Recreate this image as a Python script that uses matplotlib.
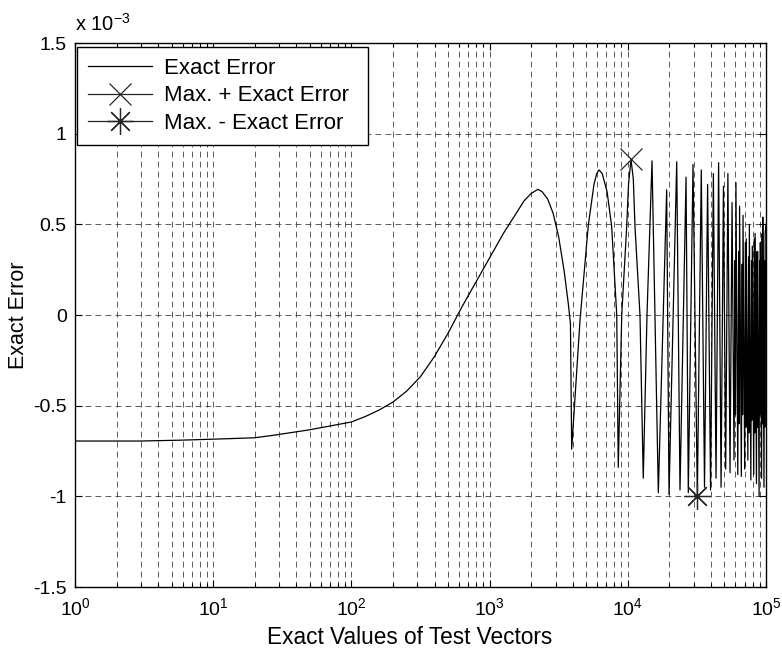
import matplotlib
matplotlib.use("Agg")
import matplotlib.pyplot as plt
from matplotlib.ticker import LogLocator, FixedLocator, FuncFormatter, NullFormatter

plt.rcParams['font.family'] = ['Liberation Sans', 'DejaVu Sans']
plt.rcParams['mathtext.fontset'] = 'custom'
plt.rcParams['mathtext.rm'] = 'Liberation Sans'
plt.rcParams['mathtext.it'] = 'Liberation Sans:italic'
plt.rcParams['mathtext.bf'] = 'Liberation Sans:bold'
plt.rcParams['axes.unicode_minus'] = False

# ---- data (error in units of 1e-3) ----
# smooth part of the exact-error curve
rise_x = [1, 3, 6, 13, 20, 28, 49, 100, 126, 158, 200, 251, 316, 398, 501,
          631, 794, 1000, 1259, 1585, 1778, 1995, 2239, 2399, 2630, 2884, 3162,
          3467, 3715, 3846]
rise_v = [-0.695, -0.695, -0.69, -0.682, -0.677, -0.662, -0.634, -0.59, -0.56,
          -0.525, -0.48, -0.42, -0.34, -0.23, -0.10, 0.045, 0.18, 0.315, 0.45,
          0.57, 0.63, 0.67, 0.693, 0.68, 0.64, 0.56, 0.43, 0.24, 0.06, -0.05]
# oscillating part: peaks, troughs and shoulder points
osc_x = [3926, 4510, 5170, 5690, 5960, 6190, 6530, 7080, 7640, 8318, 8530, 9040,
         9820, 10120, 10550, 10960, 11270, 12250, 12940, 13770, 14970, 16630,
         19110, 19870, 22590, 23860, 26390, 27400, 29640, 31850, 34020, 35900,
         37800, 39700, 41600, 43500, 45400, 47300, 49200, 51100, 53000, 54900,
         56800, 58700, 59650, 60100, 60600, 62500, 63450, 63900, 64400, 66300,
         67250, 67700, 68200, 70100, 71050, 71500, 72000, 73900, 74850, 75300,
         75800, 77700, 78650, 79100, 79600, 81500, 82450, 82900, 83400, 85300,
         86250, 86700, 87200, 89100, 90050, 90500, 91000, 92900, 93850, 94300,
         94800, 96700, 97650, 98100, 98600, 100000]
osc_v = [-0.74, -0.03, 0.49, 0.72, 0.78, 0.80, 0.78, 0.68, 0.49, 0.0, -0.84, 0.0,
         0.49, 0.72, 0.858, 0.75, 0.49, 0.0, -0.90, 0.0, 0.85, -0.98,
         0.69, -0.99, 0.845, -0.965, 0.76, -0.98, 0.83, -1.0, 0.80, -0.95,
         0.72, -0.965, 0.78, -0.90, 0.84, -0.95, 0.71, -0.85, 0.78, -0.87,
         0.62, -0.80, 0.30, -0.55, 0.73, -0.88, 0.35, -0.60, 0.60, -0.89,
         0.28, -0.55, 0.55, -0.85, 0.40, -0.62, 0.42, -0.80, 0.32, -0.65,
         0.50, -0.91, 0.30, -0.58, 0.38, -0.88, 0.42, -0.65, 0.45, -0.93,
         0.35, -0.62, 0.35, -1.0, 0.30, -0.55, 0.40, -0.90, 0.45, -0.60,
         0.54, -0.95, 0.30, -0.62, 0.45, 0.50]
# maximum positive / negative error markers
max_pos_x = [10550]
max_pos_v = [0.858]
max_neg_x = [31850]
max_neg_v = [-1.0]

ytick_vals = [-1.5, -1, -0.5, 0, 0.5, 1, 1.5]

fig = plt.figure(figsize=(7.82, 6.53), dpi=100)
W, H = 782, 653
ax = fig.add_axes([75 / W, (H - 587) / H, 691 / W, 544 / H])

curve_x = rise_x + osc_x
curve_v = rise_v + osc_v
ax.plot(curve_x, curve_v, color='k', lw=0.9, label='Exact Error')
ax.plot(max_pos_x, max_pos_v, '-', color='0.15', marker='x', ms=16, mew=0.9,
        lw=0.9, label='Max. + Exact Error')
ax.plot(max_neg_x, max_neg_v, '-', color='0.15', marker=(8, 2, 0), ms=19, mew=0.9,
        lw=0.9, label='Max. - Exact Error')

ax.set_xscale('log')
ax.set_xlim(1, 1e5)
ax.set_ylim(-1.5, 1.5)
ax.yaxis.set_major_locator(FixedLocator(ytick_vals))
ax.yaxis.set_major_formatter(FuncFormatter(lambda v, p: '%g' % v))
ax.xaxis.set_major_locator(LogLocator(base=10, numticks=10))
ax.xaxis.set_minor_locator(LogLocator(base=10, subs=range(2, 10), numticks=20))
ax.xaxis.set_minor_formatter(NullFormatter())

gs = dict(ls=(0, (7, 5)), lw=0.6, color='0.25')
ax.grid(True, which='major', axis='both', **gs)
ax.grid(True, which='minor', axis='x', **gs)
ax.grid(False, which='minor', axis='y')

ax.tick_params(which='both', direction='in', top=True, right=True, width=0.8,
               labelsize=14, colors='k')
ax.tick_params(which='major', length=5)
ax.tick_params(which='minor', length=3)
ax.tick_params(axis='x', pad=7)
ax.tick_params(axis='y', pad=6)
for s in ax.spines.values():
    s.set_linewidth(1.0)
    s.set_color('k')

ax.set_xlabel('Exact Values of Test Vectors', fontsize=16.3)
ax.xaxis.set_label_coords((410 - 75) / 691, -39 / 544)
ax.set_ylabel('Exact Error', fontsize=15.5)
ax.yaxis.set_label_coords((29 - 75) / 691, 0.5)

ax.text(0.0, 12 / 544 + 1, 'x 10$^{-3}$', transform=ax.transAxes,
        fontsize=14.5, ha='left', va='baseline')

leg = ax.legend(loc='upper left',
                bbox_to_anchor=(2 / 691, 0.5, 291 / 691, 0.5 - 4 / 544),
                mode='expand', borderaxespad=0, fontsize=16, handlelength=2.88,
                handletextpad=0.54, labelspacing=0.30, borderpad=0.48,
                fancybox=False, framealpha=1, edgecolor='k', numpoints=1)
leg.get_frame().set_linewidth(1.0)

fig.savefig('out.png', dpi=100)
